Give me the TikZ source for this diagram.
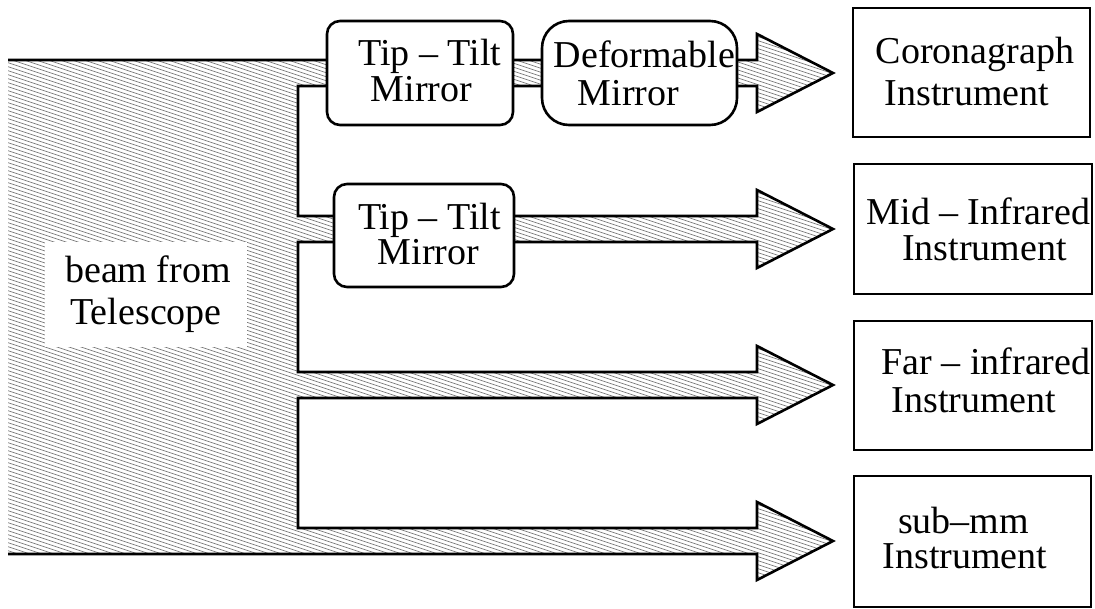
\documentclass[tikz,border=0pt]{standalone}
\usepackage{fontspec}
\setmainfont{Liberation Serif}
\newcommand{\lowdepth}[1]{\vrule width 0pt depth #1}
\begin{document}
\begin{tikzpicture}[x=1pt,y=-1pt,
  outline/.style={line width=2.6pt, line join=miter},
  hatchline/.style={black!52, line width=0.7pt},
  txt/.style={font=\fontsize{38}{37}\selectfont, align=center, inner sep=0pt},
  mirrorbox/.style={txt, draw, line width=2.6pt, fill=white, rounded corners=13pt},
  instrbox/.style={txt, draw, line width=2.6pt, fill=white}]
\useasboundingbox (0,0) rectangle (1095,608);

% hatched beam
\begin{scope}
\clip (8,60) -- (757,60) -- (757,34) -- (833,73) -- (757,112) -- (757,86)
  -- (298,86) -- (298,216) -- (757,216) -- (757,190) -- (833,229) -- (757,268) -- (757,242)
  -- (298,242) -- (298,372) -- (757,372) -- (757,346) -- (833,385) -- (757,424) -- (757,398)
  -- (298,398) -- (298,528) -- (757,528) -- (757,502) -- (833,541) -- (757,580) -- (757,554)
  -- (8,554) -- cycle;
\foreach \c in {-320,-316,...,600} \draw[hatchline] (0,\c) -- (900,\c+300);
\end{scope}

% beam outline (left edge open)
\draw[outline] (8,60) -- (757,60) -- (757,34) -- (833,73) -- (757,112) -- (757,86)
  -- (298,86) -- (298,216) -- (757,216) -- (757,190) -- (833,229) -- (757,268) -- (757,242)
  -- (298,242) -- (298,372) -- (757,372) -- (757,346) -- (833,385) -- (757,424) -- (757,398)
  -- (298,398) -- (298,528) -- (757,528) -- (757,502) -- (833,541) -- (757,580) -- (757,554)
  -- (8,554);

% label of beam
\node[txt, fill=white, minimum width=202pt, minimum height=105pt] (beam) at (146,294.5)
  {\hspace*{4pt}beam from\\[5pt]Telescope};

% mirrors
\node[mirrorbox, minimum width=186pt, minimum height=104pt] (tt1) at (420,73)
  {\hspace*{20pt}Tip – Tilt\\[-1pt]\hspace*{3pt}Mirror\lowdepth{6pt}};
\node[mirrorbox, rounded corners=27pt, minimum width=195pt, minimum height=104pt] (dm) at (639.5,73)
  {\hspace*{10pt}Deformable\\[1pt]Mirror\hspace*{22pt}};
\node[mirrorbox, minimum width=180pt, minimum height=103pt] (tt2) at (424,235.5)
  {\hspace*{11pt}Tip – Tilt\\[-2pt]\hspace*{9pt}Mirror\lowdepth{4pt}};

% instruments
\node[instrbox, minimum width=237pt, minimum height=129pt] (cor) at (971.5,72.5)
  {\hspace*{7pt}Coronagraph\\[5pt]Instrument\hspace*{9pt}\lowdepth{3pt}};
\node[instrbox, minimum width=238pt, minimum height=130pt] (mid) at (973,229)
  {\hspace*{11pt}Mid – Infrared\\[-1pt]\hspace*{23pt}Instrument};
\node[instrbox, minimum width=238pt, minimum height=129pt] (far) at (973,385.5)
  {\hspace*{26pt}Far – infrared\\[1pt]\hspace*{2pt}Instrument\lowdepth{10pt}};
\node[instrbox, minimum width=237pt, minimum height=131pt] (sub) at (972.5,541.5)
  {sub–mm\hspace*{18pt}\\[-2pt]Instrument\hspace*{15pt}\lowdepth{8pt}};
\end{tikzpicture}
\end{document}
